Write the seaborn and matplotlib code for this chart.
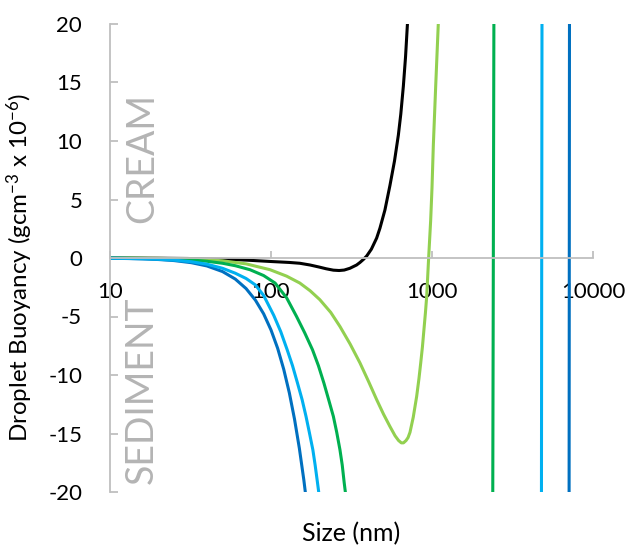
import matplotlib
matplotlib.use("Agg")
import matplotlib.pyplot as plt
import seaborn as sns
from matplotlib.ticker import NullLocator

# values (size in nm, buoyancy in gcm^-3 x 10^-6)
black_size = [10, 20, 30, 50, 70, 100, 130, 151, 175, 200, 220, 244, 265, 285,
              309, 324, 340, 357, 375, 393, 420, 453, 475, 510, 548, 585, 618,
              640, 664, 685, 703, 715]
black_val = [0.0, -0.02, -0.04, -0.1, -0.18, -0.3, -0.38, -0.45, -0.6, -0.78,
             -0.92, -1.04, -1.07, -1.03, -0.88, -0.74, -0.6, -0.38, -0.12, 0.17,
             0.75, 1.7, 2.55, 4.1, 6.2, 8.3, 10.5, 12.3, 14.7, 17.2, 19.9,
             21.7]

lgreen_size = [10, 20, 30, 40, 50, 70, 98.6, 125, 151, 175, 201, 235, 268, 310,
               357, 405, 453, 500, 548, 590, 620, 645, 665, 690, 710, 730, 765,
               803, 830, 851, 872, 891, 910, 927, 953, 981, 1000, 1019, 1055,
               1094, 1120]
lgreen_val = [-0.005, -0.03, -0.08, -0.15, -0.24, -0.5, -1.0, -1.55, -2.14,
              -2.8, -3.56, -4.65, -5.85, -7.35, -8.97, -10.6, -12.1, -13.35,
              -14.4, -15.2, -15.6, -15.8, -15.8, -15.6, -15.35, -14.9, -13.6,
              -11.83, -10.3, -8.97, -7.6, -6.13, -4.7, -3.28, 0.0, 3.2, 6.0,
              9.6, 14.8, 20.0, 24.0]

green_size = [10, 13, 16, 20, 25, 32, 40, 50, 60, 74, 90, 106, 125, 144, 162,
              181, 197, 213, 228, 244, 256, 268, 277, 285, 292, 300, 400, 1000,
              1800, 2200, 2380, 2404, 2428, 2600]
green_val = [-0.01, -0.02, -0.035, -0.06, -0.1, -0.17, -0.28, -0.45, -0.66,
             -1.0, -1.5, -2.14, -3.4, -4.99, -6.4, -7.84, -9.2, -10.68, -12.1,
             -13.54, -14.9, -16.38, -17.7, -19.23, -20.4, -22.0, -40.0, -170.0,
             -200.0, -110.0, -25.0, 0.0, 25.0, 150.0]

lblue_size = [10, 13, 16, 20, 25, 32, 40, 50, 60, 70, 80, 90, 104, 115, 126,
              136, 146, 156, 165, 173, 182, 188, 194, 200, 220, 1000, 3000,
              4600, 4780, 4802, 4826, 5000]
lblue_val = [-0.02, -0.04, -0.065, -0.11, -0.18, -0.32, -0.53, -0.88, -1.3,
             -1.75, -2.3, -3.2, -4.9, -6.3, -7.84, -9.2, -10.68, -12.1, -13.54,
             -14.9, -16.4, -17.7, -19.1, -20.5, -25.0, -400.0, -1500.0, -500.0,
             -25.0, 0.0, 25.0, 500.0]

blue_size = [10, 13, 16, 20, 25, 32, 40, 50, 60, 70, 80, 90, 100, 110, 120, 130,
             140, 150, 160, 170, 1000, 4000, 6800, 7100, 7124, 7148, 7300]
blue_val = [-0.024, -0.046, -0.076, -0.13, -0.22, -0.4, -0.68, -1.16, -1.8,
            -2.61, -3.6, -4.77, -6.15, -7.72, -9.52, -11.53, -13.78, -16.26,
            -18.99, -21.95, -600.0, -1500.0, -500.0, -25.0, 0.0, 25.0, 300.0]

y_ticks = [-20, -15, -10, -5, 0, 5, 10, 15, 20]
x_ticks = [10, 100, 1000, 10000]
x_tick_labels = ["10", "100", "1000", "10000"]

sns.set_theme(style="white")
plt.rcParams["font.family"] = ["Lato", "DejaVu Sans"]
plt.rcParams["mathtext.fontset"] = "custom"
plt.rcParams["mathtext.rm"] = "Lato"
plt.rcParams["mathtext.default"] = "regular"
plt.rcParams["axes.unicode_minus"] = False

fig = plt.figure(figsize=(6.3, 5.49), dpi=100)
ax = fig.add_axes([110 / 630, 1 - 492 / 549, 483 / 630, 468 / 549])

series = [
    (black_size, black_val, "#000000"),
    (lgreen_size, lgreen_val, "#92d050"),
    (green_size, green_val, "#00b050"),
    (blue_size, blue_val, "#0070c0"),
    (lblue_size, lblue_val, "#00b0f0"),
]
for xs, ys, col in series:
    sns.lineplot(x=xs, y=ys, color=col, linewidth=2.2, estimator=None,
                 sort=False, ax=ax)

ax.set_xscale("log")
ax.set_xlim(10, 10000)
ax.set_ylim(-20, 20)
ax.set_xticks(x_ticks)
ax.set_xticklabels(x_tick_labels)
ax.xaxis.set_minor_locator(NullLocator())
ax.set_yticks(y_ticks)

spine_col = "#bfbfbf"
ax.spines["top"].set_visible(False)
ax.spines["right"].set_visible(False)
ax.spines["bottom"].set_position(("data", 0))
for s in ("left", "bottom"):
    ax.spines[s].set_color(spine_col)
    ax.spines[s].set_linewidth(1.3)

ax.tick_params(axis="x", direction="in", length=5, width=1.3, color=spine_col,
               pad=17, labelsize=16, labelcolor="black", bottom=True)
ax.tick_params(axis="y", direction="in", length=6, width=1.3, color=spine_col,
               pad=20, labelsize=16, labelcolor="black", left=True)

ax.set_xlabel("Size (nm)", fontsize=18, color="black")
ax.xaxis.set_label_coords(0.5, -0.064)
ax.set_ylabel(r"Droplet Buoyancy (gcm$^{-3}$ x 10$^{-6}$)", fontsize=17.4,
              color="black")
ax.yaxis.set_label_coords(-0.155, 0.479)

ax.text(0.066, 0.714, "CREAM", transform=ax.transAxes, rotation=90,
        fontsize=27, color="#b4b4b4", ha="center", va="center")
ax.text(0.066, 0.218, "SEDIMENT", transform=ax.transAxes, rotation=90,
        fontsize=27, color="#b4b4b4", ha="center", va="center")

fig.savefig("out.png", dpi=100)
